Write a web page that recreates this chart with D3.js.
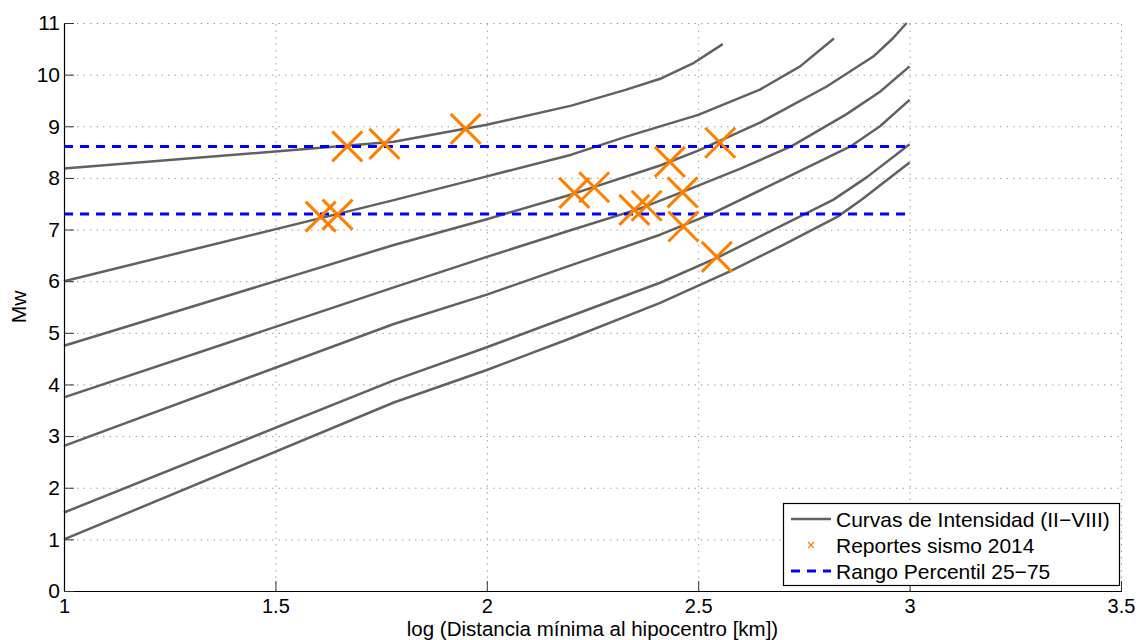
<!DOCTYPE html>
<html>
<head>
<meta charset="utf-8">
<script src="https://cdn.jsdelivr.net/npm/d3@7"></script>
<style>
  body { margin: 0; background: #fff; }
  svg text { font-family: "Liberation Sans", Arial, sans-serif; fill: #000; }
</style>
</head>
<body>
<svg id="chart" width="1140" height="640"></svg>
<script>
// intensity curves II..VIII as [log distance, Mw]
var curveII = [[1, 1.0], [1.78, 3.65], [2.0, 4.28], [2.2, 4.9], [2.41, 5.58], [2.575, 6.19], [2.7, 6.7], [2.83, 7.25], [2.887, 7.58], [3.0, 8.3]];
var curveIII = [[1, 1.52], [1.78, 4.08], [2.0, 4.72], [2.2, 5.33], [2.41, 5.97], [2.544, 6.45], [2.74, 7.25], [2.82, 7.58], [2.9, 8.02], [3.0, 8.65]];
var curveIV = [[1, 2.81], [1.78, 5.17], [2.0, 5.74], [2.2, 6.31], [2.41, 6.9], [2.53, 7.3], [2.7, 7.97], [2.86, 8.61], [2.93, 9.0], [3.0, 9.51]];
var curveV = [[1, 3.75], [1.78, 5.88], [2.0, 6.47], [2.2, 6.99], [2.36, 7.4], [2.46, 7.72], [2.6, 8.18], [2.72, 8.61], [2.85, 9.23], [2.93, 9.67], [3.0, 10.16]];
var curveVI = [[1, 4.75], [1.78, 6.7], [2.0, 7.2], [2.2, 7.68], [2.41, 8.24], [2.5, 8.53], [2.646, 9.07], [2.804, 9.77], [2.914, 10.35], [2.96, 10.7], [2.993, 11.0]];
var curveVII = [[1, 6.0], [1.78, 7.57], [2.0, 8.03], [2.2, 8.45], [2.33, 8.8], [2.5, 9.22], [2.646, 9.71], [2.741, 10.16], [2.821, 10.7]];
var curveVIII = [[1, 8.18], [1.78, 8.7], [2.0, 9.03], [2.2, 9.4], [2.33, 9.71], [2.41, 9.92], [2.49, 10.23], [2.558, 10.59]];
var curves = [curveII, curveIII, curveIV, curveV, curveVI, curveVII, curveVIII];

// 2014 earthquake reports
var reportDist = [1.67, 1.758, 1.95, 1.607, 1.647, 2.207, 2.254, 2.349, 2.378, 2.433, 2.463, 2.465, 2.552, 2.544];
var reportMw = [8.61, 8.66, 8.95, 7.25, 7.29, 7.71, 7.82, 7.38, 7.46, 8.31, 7.72, 7.06, 8.68, 6.47];

// percentile 25-75 range
var pctRange = [1, 3];
var pctValues = [7.3, 8.61];

var xTicks = [1, 1.5, 2, 2.5, 3, 3.5];
var yTicks = [0, 1, 2, 3, 4, 5, 6, 7, 8, 9, 10, 11];

var legendLabels = ["Curvas de Intensidad (II\u2212VIII)", "Reportes sismo 2014", "Rango Percentil 25\u221275"];

var svg = d3.select("#chart");
var fontSize = 21;

var x = d3.scaleLinear().domain([1, 3.5]).range([64, 1121]);
var y = d3.scaleLinear().domain([0, 11]).range([591, 23]);

var curveColor = "#616161";
var markColor = "#ff8000";
var pctColor = "#0000ff";

// dotted grid
svg.append("g")
    .attr("transform", "translate(0,591)")
    .call(d3.axisBottom(x).tickValues(xTicks).tickSize(-(591 - 23)).tickFormat(""))
    .call(function (g) {
        g.select(".domain").remove();
        g.selectAll("line").attr("stroke", "#a0a0a0").attr("stroke-dasharray", "1.5,5");
    });
svg.append("g")
    .attr("transform", "translate(64,0)")
    .call(d3.axisLeft(y).tickValues(yTicks).tickSize(-(1121 - 64)).tickFormat(""))
    .call(function (g) {
        g.select(".domain").remove();
        g.selectAll("line").attr("stroke", "#a0a0a0").attr("stroke-dasharray", "1.5,5");
    });

// curves
var line = d3.line()
    .x(function (d) { return x(d[0]); })
    .y(function (d) { return y(d[1]); });

svg.append("g").selectAll("path")
    .data(curves)
    .enter().append("path")
    .attr("d", line)
    .attr("fill", "none")
    .attr("stroke", curveColor)
    .attr("stroke-width", 2.5)
    .attr("stroke-linejoin", "round");

// percentile lines
svg.append("g").selectAll("line")
    .data(pctValues)
    .enter().append("line")
    .attr("x1", x(pctRange[0]))
    .attr("x2", x(pctRange[1]))
    .attr("y1", function (d) { return y(d); })
    .attr("y2", function (d) { return y(d); })
    .attr("stroke", pctColor)
    .attr("stroke-width", 3)
    .attr("stroke-dasharray", "9,7");

// report markers
var half = 15;
svg.append("g").selectAll("path")
    .data(reportDist)
    .enter().append("path")
    .attr("d", function (d, i) {
        var cx = x(d), cy = y(reportMw[i]);
        return "M" + (cx - half) + "," + (cy - half) + "L" + (cx + half) + "," + (cy + half) +
            "M" + (cx - half) + "," + (cy + half) + "L" + (cx + half) + "," + (cy - half);
    })
    .attr("fill", "none")
    .attr("stroke", markColor)
    .attr("stroke-width", 3);

// axes with inward ticks
var xAxis = svg.append("g")
    .attr("transform", "translate(0,591)")
    .call(d3.axisBottom(x).tickValues(xTicks).tickSize(-10).tickPadding(8).tickFormat(d3.format("")));
var yAxis = svg.append("g")
    .attr("transform", "translate(64,0)")
    .call(d3.axisLeft(y).tickValues(yTicks).tickSize(-10).tickPadding(4).tickFormat(d3.format("")));

[xAxis, yAxis].forEach(function (g) {
    g.select(".domain").attr("stroke", "#000").attr("stroke-width", 1.2);
    g.selectAll(".tick line").attr("stroke", "#333");
    g.selectAll("text").attr("font-size", fontSize).attr("font-family", null).style("fill", "#000");
});
xAxis.selectAll("text").attr("font-size", 20);
xAxis.select(".domain").attr("d", "M64,0.5H1122");
yAxis.select(".domain").attr("d", "M0.5,591V23");

// axis titles
svg.append("text")
    .attr("x", (64 + 1121) / 2)
    .attr("y", 635.5)
    .attr("text-anchor", "middle")
    .attr("font-size", 20.5)
    .text("log (Distancia m\u00ednima al hipocentro [km])");

svg.append("text")
    .attr("transform", "translate(26,307) rotate(-90)")
    .attr("text-anchor", "middle")
    .attr("font-size", fontSize)
    .text("Mw");

// legend
var legend = svg.append("g").attr("transform", "translate(783,503)");
legend.append("rect")
    .attr("x", 0.5).attr("y", 0.5)
    .attr("width", 336).attr("height", 82)
    .attr("fill", "#fff")
    .attr("stroke", "#000")
    .attr("stroke-width", 1.2);

var rowY = [16, 42, 68];
legend.append("line")
    .attr("x1", 8).attr("x2", 48).attr("y1", rowY[0]).attr("y2", rowY[0])
    .attr("stroke", curveColor).attr("stroke-width", 2.5);
legend.append("path")
    .attr("d", "M25," + (rowY[1] - 3) + "l6,6M25," + (rowY[1] + 3) + "l6,-6")
    .attr("stroke", markColor).attr("stroke-width", 1.2);
legend.append("line")
    .attr("x1", 8).attr("x2", 48).attr("y1", rowY[2]).attr("y2", rowY[2])
    .attr("stroke", pctColor).attr("stroke-width", 3).attr("stroke-dasharray", "9,7");

legend.selectAll("text.lbl")
    .data(legendLabels)
    .enter().append("text")
    .attr("class", "lbl")
    .attr("x", 53)
    .attr("y", function (d, i) { return rowY[i]; })
    .attr("dy", "0.36em")
    .attr("font-size", fontSize)
    .text(function (d) { return d; });
</script>
</body>
</html>
